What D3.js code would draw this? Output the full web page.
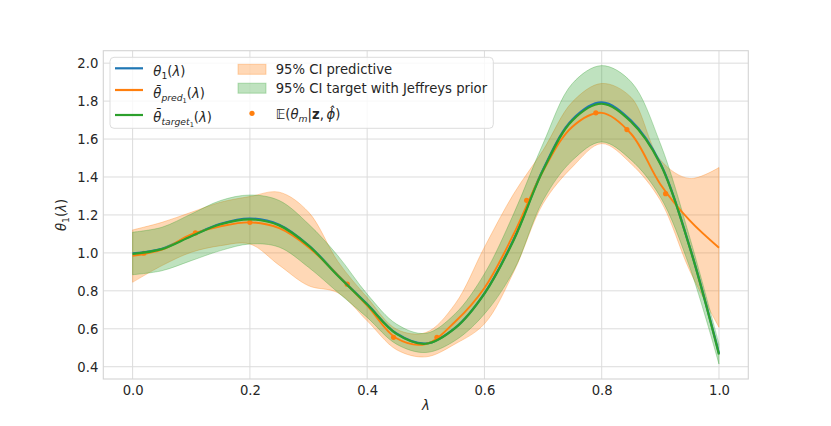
<!DOCTYPE html>
<html>
<head>
<meta charset="utf-8">
<script src="https://cdn.jsdelivr.net/npm/d3@7"></script>
<style>
body { margin: 0; background: #fff; }
text { font-family: "DejaVu Sans", sans-serif; fill: #262626; }
</style>
</head>
<body>
<script>
// values
var lambdaGrid = [0.00,0.05,0.10,0.15,0.20,0.25,0.30,0.35,0.40,0.45,0.50,0.55,0.60,0.65,0.70,0.75,0.80,0.85,0.90,0.95,1.00];
var thetaTrue   = [0.997,1.022,1.090,1.153,1.181,1.148,1.040,0.882,0.730,0.575,0.522,0.605,0.787,1.072,1.440,1.703,1.793,1.697,1.473,1.032,0.470];
var thetaPred   = [0.985,1.017,1.097,1.140,1.161,1.130,1.030,0.882,0.722,0.550,0.520,0.637,0.815,1.100,1.432,1.665,1.738,1.628,1.362,1.171,1.027];
var thetaTarget = [0.995,1.020,1.088,1.151,1.177,1.145,1.038,0.880,0.728,0.573,0.521,0.603,0.785,1.068,1.435,1.698,1.786,1.691,1.469,1.030,0.465];
var predLower   = [0.845,0.933,1.003,1.038,1.047,0.935,0.827,0.790,0.642,0.490,0.452,0.520,0.626,0.900,1.260,1.453,1.576,1.470,1.277,0.907,0.608];
var predUpper   = [1.121,1.161,1.214,1.267,1.297,1.320,1.215,0.955,0.765,0.598,0.580,0.731,1.030,1.312,1.541,1.796,1.893,1.820,1.490,1.392,1.450];
var targetLower = [0.885,0.906,0.959,1.012,1.047,1.030,0.924,0.792,0.660,0.519,0.475,0.538,0.678,0.907,1.277,1.488,1.585,1.490,1.295,0.925,0.414];
var targetUpper = [1.109,1.135,1.205,1.276,1.305,1.276,1.152,0.985,0.783,0.625,0.576,0.679,0.890,1.207,1.576,1.893,1.987,1.902,1.576,1.083,0.520];
var pointLambda = [0.019,0.107,0.200,0.366,0.445,0.519,0.672,0.790,0.843,0.909];
var pointTheta  = [0.998,1.105,1.161,0.835,0.555,0.555,1.277,1.738,1.650,1.312];
var xTicks = [0.0,0.2,0.4,0.6,0.8,1.0];
var yTicks = [0.4,0.6,0.8,1.0,1.2,1.4,1.6,1.8,2.0];

var C = { blue: "#1f77b4", orange: "#ff7f0e", green: "#2ca02c" };
var fs = 13.2;
var plot = { left: 103.3, right: 748.3, top: 50.7, bottom: 379 };

var svg = d3.select("body").append("svg")
	.attr("width", 831)
	.attr("height", 426);

var x = d3.scaleLinear().domain([-0.05, 1.05]).range([plot.left, plot.right]);

var allY = [].concat(predLower, predUpper, targetLower, targetUpper, thetaTrue, thetaPred, thetaTarget, pointTheta);
var yMin = d3.min(allY), yMax = d3.max(allY), pad = (yMax - yMin) * 0.05;
var y = d3.scaleLinear().domain([yMin - pad, yMax + pad]).range([plot.bottom, plot.top]);

// grid
var grid = svg.append("g");
grid.selectAll(".vg").data(xTicks).enter().append("line")
	.attr("x1", function(d) { return x(d); }).attr("x2", function(d) { return x(d); })
	.attr("y1", plot.top).attr("y2", plot.bottom)
	.attr("stroke", "#dcdcdc").attr("stroke-width", 1);
grid.selectAll(".hg").data(yTicks).enter().append("line")
	.attr("y1", function(d) { return y(d); }).attr("y2", function(d) { return y(d); })
	.attr("x1", plot.left).attr("x2", plot.right)
	.attr("stroke", "#dcdcdc").attr("stroke-width", 1);

// axes labels via d3 axes
var ax = svg.append("g")
	.attr("transform", "translate(0," + plot.bottom + ")")
	.call(d3.axisBottom(x).tickValues(xTicks).tickFormat(d3.format(".1f")).tickSize(0).tickPadding(7));
var ay = svg.append("g")
	.attr("transform", "translate(" + plot.left + ",0)")
	.call(d3.axisLeft(y).tickValues(yTicks).tickFormat(d3.format(".1f")).tickSize(0).tickPadding(5));
[ax, ay].forEach(function(a) {
	a.select(".domain").remove();
	a.selectAll("text").style("font-size", fs + "px").style("font-family", "DejaVu Sans").attr("fill", "#262626");
});
ay.selectAll("text").attr("dy", "0.36em");

// bands
function rows(lo, hi) {
	return lambdaGrid.map(function(l, i) { return { l: l, lo: lo[i], hi: hi[i] }; });
}
var area = d3.area()
	.x(function(d) { return x(d.l); })
	.y0(function(d) { return y(d.lo); })
	.y1(function(d) { return y(d.hi); })
	.curve(d3.curveCatmullRom);

svg.append("path").datum(rows(predLower, predUpper))
	.attr("d", area)
	.attr("fill", C.orange).attr("fill-opacity", 0.3)
	.attr("stroke", C.orange).attr("stroke-opacity", 0.3).attr("stroke-width", 1);
svg.append("path").datum(rows(targetLower, targetUpper))
	.attr("d", area)
	.attr("fill", C.green).attr("fill-opacity", 0.3)
	.attr("stroke", C.green).attr("stroke-opacity", 0.3).attr("stroke-width", 1);

// points
svg.selectAll(".pt").data(pointLambda).enter().append("circle")
	.attr("cx", function(d) { return x(d); })
	.attr("cy", function(d, i) { return y(pointTheta[i]); })
	.attr("r", 2.6)
	.attr("fill", C.orange);

// lines
var line = d3.line()
	.x(function(d, i) { return x(lambdaGrid[i]); })
	.y(function(d) { return y(d); })
	.curve(d3.curveCatmullRom);
[[thetaTrue, C.blue, 2.2], [thetaPred, C.orange, 1.9], [thetaTarget, C.green, 2.2]].forEach(function(s) {
	svg.append("path").datum(s[0])
		.attr("d", line)
		.attr("fill", "none")
		.attr("stroke", s[1])
		.attr("stroke-width", s[2]);
});

// frame
svg.append("rect")
	.attr("x", plot.left).attr("y", plot.top)
	.attr("width", plot.right - plot.left).attr("height", plot.bottom - plot.top)
	.attr("fill", "none").attr("stroke", "#d4d4d4").attr("stroke-width", 1.1);

// mathtext-ish helper: segments [text, style, level]
function addMath(g, px, py, segs, size) {
	var t = g.append("text").attr("x", px).attr("y", py).style("font-size", size + "px");
	var cur = 0;
	segs.forEach(function(s) {
		var lvl = s[2] || 0;
		var off = [0, 0.23, 0.40][lvl] * size;
		t.append("tspan")
			.attr("dy", off - cur)
			.style("font-size", (size * [1, 0.7, 0.5][lvl]) + "px")
			.style("font-style", s[1] == "i" ? "italic" : "normal")
			.style("font-weight", s[1] == "b" ? "bold" : "normal")
			.text(s[0]);
		cur = off;
	});
	return t;
}

var lamParen = [["(", "n"], ["\u03bb", "i"], [")", "n"]];

// axis titles
addMath(svg, 425.8, 409.5, [["\u03bb", "i"]], fs).attr("text-anchor", "middle");
addMath(svg.append("g").attr("transform", "translate(66,215) rotate(-90)"), 0, 0,
	[["\u03b8", "i"], ["1", "n", 1]].concat(lamParen), fs).attr("text-anchor", "middle");

// legend
var lg = svg.append("g");
lg.append("rect")
	.attr("x", 110).attr("y", 57.3).attr("width", 383.3).attr("height", 71).attr("rx", 4)
	.attr("fill", "#fff").attr("fill-opacity", 0.8)
	.attr("stroke", "#dddddd").attr("stroke-width", 1);

var lineItems = [
	{ color: C.blue, ly: 68.3, ty: 75.5, segs: [["\u03b8", "i"], ["1", "n", 1]].concat(lamParen) },
	{ color: C.orange, ly: 90, ty: 98, segs: [["\u03b8\u0304", "i"], ["pred", "i", 1], ["1", "n", 2]].concat(lamParen) },
	{ color: C.green, ly: 115, ty: 121.5, segs: [["\u03b8\u0304", "i"], ["target", "i", 1], ["1", "n", 2]].concat(lamParen) }
];
lineItems.forEach(function(it) {
	lg.append("line").attr("x1", 115).attr("x2", 143).attr("y1", it.ly).attr("y2", it.ly)
		.attr("stroke", it.color).attr("stroke-width", 2.2);
	addMath(lg, 153.3, it.ty, it.segs, fs);
});

var patchItems = [
	{ color: C.orange, cy: 69.3, ty: 73.8, label: "95% CI predictive" },
	{ color: C.green, cy: 88.2, ty: 92.9, label: "95% CI target with Jeffreys prior" }
];
patchItems.forEach(function(it) {
	lg.append("rect").attr("x", 238).attr("y", it.cy - 5).attr("width", 28).attr("height", 10)
		.attr("fill", it.color).attr("fill-opacity", 0.3)
		.attr("stroke", it.color).attr("stroke-opacity", 0.3).attr("stroke-width", 1);
	lg.append("text").attr("x", 275.7).attr("y", it.ty).style("font-size", fs + "px").text(it.label);
});
lg.append("circle").attr("cx", 252).attr("cy", 113.3).attr("r", 2.6).attr("fill", C.orange);
addMath(lg, 275.7, 119, [
	["\ud835\udd3c", "n"], ["(", "n"], ["\u03b8", "i"], ["m", "i", 1], ["|", "n"],
	["z", "b"], [",\u2009", "n"], ["\u03d5\u0302", "i"], [")", "n"]
], fs);
</script>
</body>
</html>
